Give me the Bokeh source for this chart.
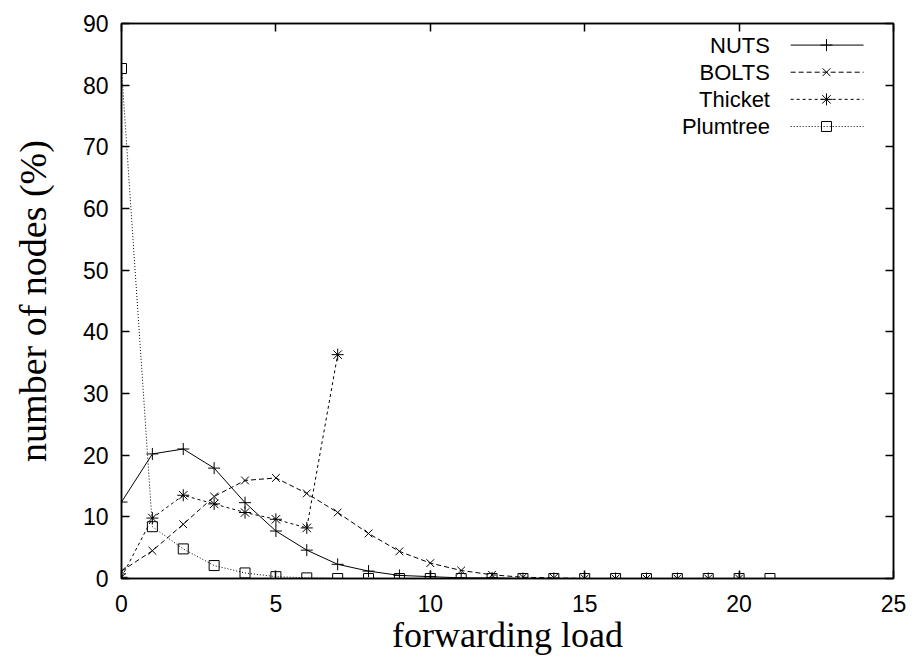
from bokeh.plotting import figure
from bokeh.models import Range1d, LinearAxis, FixedTicker, Label
from bokeh.embed import file_html
from bokeh.resources import INLINE

# ---- data ----
nuts_x = list(range(0, 21))
nuts_y = [12.4, 20.2, 21.0, 17.9, 12.3, 7.7, 4.6, 2.3, 1.2, 0.5, 0.3, 0.1, 0.1,
          0.0, 0.0, 0.0, 0.0, 0.0, 0.0, 0.0, 0.0]
bolts_x = list(range(0, 21))
bolts_y = [1.2, 4.5, 8.8, 13.3, 15.9, 16.3, 13.8, 10.7, 7.3, 4.4, 2.5, 1.3, 0.6,
           0.2, 0.1, 0.0, 0.0, 0.0, 0.0, 0.0, 0.0]
thicket_x = list(range(0, 8))
thicket_y = [0.2, 9.8, 13.5, 12.1, 10.7, 9.6, 8.2, 36.3]
plum_x = list(range(0, 22))
plum_y = [82.7, 8.4, 4.8, 2.1, 0.9, 0.3, 0.1, 0.0, 0.0, 0.0, 0.0, 0.0, 0.0, 0.0,
          0.0, 0.0, 0.0, 0.0, 0.0, 0.0, 0.0, 0.0]
series_names = ["NUTS", "BOLTS", "Thicket", "Plumtree"]
x_ticks = [0, 5, 10, 15, 20, 25]
y_ticks = [0, 10, 20, 30, 40, 50, 60, 70, 80, 90]

TICK_FONT = "Liberation Sans"
LABEL_FONT = "Liberation Serif"

p = figure(frame_width=772, frame_height=555, output_backend="svg",
           toolbar_location=None, x_range=Range1d(0, 25), y_range=Range1d(0, 90),
           min_border_left=121, min_border_top=23, min_border_right=15,
           min_border_bottom=70)
p.background_fill_color = "white"
p.border_fill_color = "white"
p.outline_line_color = "black"
p.outline_line_width = 1.5
p.xgrid.visible = False
p.ygrid.visible = False

def style_axis(ax, ticks, show_labels=True):
    ax.ticker = FixedTicker(ticks=ticks)
    ax.major_tick_in = 8
    ax.major_tick_out = 0
    ax.minor_tick_line_color = None
    ax.axis_line_color = "black"
    ax.axis_line_width = 1.5
    ax.major_tick_line_color = "black"
    ax.major_tick_line_width = 1.5
    ax.major_label_text_font = TICK_FONT
    ax.major_label_text_font_size = "23px"
    ax.major_label_text_color = "black"
    if not show_labels:
        ax.major_label_text_font_size = "0px"
        ax.major_label_text_color = None

style_axis(p.xaxis[0], x_ticks)
style_axis(p.yaxis[0], y_ticks)
p.xaxis[0].major_label_standoff = 16
p.yaxis[0].major_label_standoff = 13
p.xaxis[0].axis_label = "forwarding load"
p.yaxis[0].axis_label = "number of nodes (%)"
for ax in (p.xaxis[0], p.yaxis[0]):
    ax.axis_label_text_font = LABEL_FONT
    ax.axis_label_text_font_style = "normal"
    ax.axis_label_text_color = "black"
p.xaxis[0].axis_label_text_font_size = "36px"
p.yaxis[0].axis_label_text_font_size = "38px"
p.xaxis[0].axis_label_standoff = 0
p.yaxis[0].axis_label_standoff = 26

top = LinearAxis()
style_axis(top, x_ticks, show_labels=False)
p.add_layout(top, "above")
right = LinearAxis()
style_axis(right, y_ticks, show_labels=False)
p.add_layout(right, "right")
p.min_border_top = 23
p.min_border_right = 15

# ---- series ----
p.line(nuts_x, nuts_y, line_color="black", line_width=1)
p.scatter(nuts_x, nuts_y, marker="cross", size=12, line_color="black", line_width=1)

p.line(bolts_x, bolts_y, line_color="black", line_width=1, line_dash="5 3")
p.scatter(bolts_x, bolts_y, marker="x", size=11, line_color="black", line_width=1)

p.line(thicket_x, thicket_y, line_color="black", line_width=1, line_dash="3 3")
p.scatter(thicket_x, thicket_y, marker="asterisk", size=12, line_color="black", line_width=1)

p.line(plum_x, plum_y, line_color="black", line_width=1, line_dash="1 2")
p.scatter(plum_x, plum_y, marker="square", size=10, line_color="black",
          fill_color=None, line_width=1)

# ---- legend (label left, sample right, gnuplot style) ----
leg_rows = [86.5, 82.1, 77.7, 73.3]
leg_text_x = 21.0
leg_x0, leg_x1, leg_xm = 21.67, 24.03, 22.83
dashes = ["solid", "5 3", "3 3", "1 2"]
markers = ["cross", "x", "asterisk", "square"]
sizes = [12, 11, 12, 10]
for name, yy, dash, mk, sz in zip(series_names, leg_rows, dashes, markers, sizes):
    p.add_layout(Label(x=leg_text_x, y=yy, text=name, text_align="right",
                       text_baseline="middle", text_font=TICK_FONT,
                       text_font_size="22px", text_color="black"))
    p.line([leg_x0, leg_x1], [yy, yy], line_color="black", line_width=1, line_dash=dash)
    p.scatter([leg_xm], [yy], marker=mk, size=sz, line_color="black",
              fill_color=None, line_width=1)

open("out.html", "w").write(file_html(p, INLINE))
